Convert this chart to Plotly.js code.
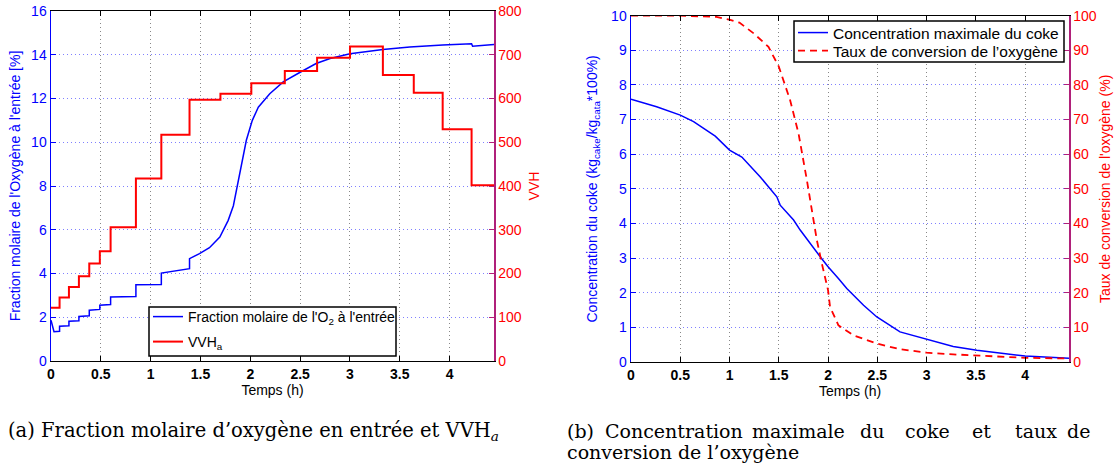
<!DOCTYPE html>
<html><head><meta charset="utf-8">
<script src="https://cdn.plot.ly/plotly-3.0.1.min.js"></script>
<style>html,body{margin:0;padding:0;background:#fff}#chart{width:1118px;height:474px}</style>
</head><body><div id="chart"></div>
<script>
// ---------- data: panel (a) ----------
const o2Time = [0, 0.03, 0.086, 0.086, 0.18, 0.18, 0.28, 0.28, 0.384, 0.384, 0.49, 0.49, 0.598, 0.598, 0.852, 0.852, 1.107, 1.107, 1.39, 1.39, 1.49, 1.59, 1.694, 1.778, 1.83, 1.878, 1.92, 1.96, 2.02, 2.08, 2.195, 2.33, 2.5, 2.66, 2.8, 3.0, 3.33, 3.6, 3.93, 4.22, 4.23, 4.445];
const o2Frac = [1.86, 1.34, 1.36, 1.59, 1.61, 1.82, 1.84, 2.04, 2.07, 2.32, 2.36, 2.55, 2.58, 2.93, 2.95, 3.49, 3.5, 4.02, 4.22, 4.68, 4.91, 5.18, 5.67, 6.43, 7.1, 8.26, 9.2, 10.09, 11.0, 11.6, 12.22, 12.76, 13.2, 13.6, 13.83, 14.05, 14.24, 14.35, 14.45, 14.5, 14.39, 14.47];
const vvhTime = [0, 0.086, 0.18, 0.28, 0.384, 0.49, 0.598, 0.852, 1.107, 1.39, 1.70, 2.01, 2.346, 2.67, 3.0, 3.33, 3.64, 3.93, 4.22, 4.445];
const vvhVal  = [122, 145, 169, 194, 223, 251, 306, 417, 517, 597, 611, 635, 663, 693, 719, 654, 613, 530, 402, 402];
// ---------- data: panel (b) ----------
const cokeTime = [0, 0.26, 0.5, 0.635, 0.855, 1.0, 1.125, 1.31, 1.48, 1.514, 1.65, 1.717, 1.92, 2.0, 2.105, 2.19, 2.36, 2.495, 2.73, 3.0, 3.27, 3.51, 4.0, 4.445];
const cokeVal  = [7.59, 7.37, 7.13, 6.94, 6.52, 6.12, 5.92, 5.35, 4.77, 4.53, 4.1, 3.81, 3.04, 2.75, 2.41, 2.12, 1.64, 1.30, 0.87, 0.65, 0.45, 0.34, 0.17, 0.11];
const convTime = [0, 0.5, 0.855, 1.007, 1.1, 1.245, 1.395, 1.5, 1.615, 1.70, 1.785, 1.82, 1.886, 1.937, 2.0, 2.02, 2.105, 2.258, 2.495, 2.73, 3.0, 3.27, 3.51, 4.0, 4.445];
const convVal  = [100, 100, 99.7, 98.8, 98, 94.9, 91, 85.3, 75.6, 66, 52.5, 46.7, 35.2, 28.4, 20.7, 15.9, 10.6, 7.7, 5.3, 3.7, 2.7, 2.2, 1.85, 1.2, 1.0];
// ---------- labels ----------
const xTitle = 'Temps (h)';
const yTitleA = "Fraction molaire de l'Oxygène à l'entrée [%]";
const y2TitleA = 'VVH';
const yTitleB = 'Concentration du coke (kg<sub>cake</sub>/kg<sub>cata</sub>*100%)';
const y2TitleB = "Taux de conversion de l'oxygène (%)";
const nameO2 = "Fraction molaire de l'O<sub>2</sub> à l'entrée";
const nameVVH = 'VVH<sub>a</sub>';
const nameCoke = 'Concentration maximale du coke';
const nameConv = 'Taux de conversion de l’oxygène';
const captionA = '(a) Fraction molaire d’oxygène en entrée et VVH<sub><i>a</i></sub>';
const captionBWords = ['(b)', 'Concentration', 'maximale', 'du', 'coke', 'et', 'taux', 'de'];
const captionBLine2 = 'conversion de l’oxygène';

const W = 1118, H = 474;
const fx = v => v / W, fy = v => 1 - v / H;
const SANS = 'Liberation Sans, Arial, sans-serif';
const SERIF = 'DejaVu Serif, Liberation Serif, serif';
const BLUE = '#0000ff', RED = '#ff0000', MAG = '#b0207a';

const traces = [
  {x: o2Time, y: o2Frac, xaxis: 'x', yaxis: 'y', mode: 'lines', name: nameO2,
   line: {color: BLUE, width: 1.5}, legend: 'legend'},
  {x: vvhTime, y: vvhVal, xaxis: 'x', yaxis: 'y2', mode: 'lines', name: nameVVH,
   line: {color: RED, width: 2, shape: 'hv'}, legend: 'legend3'},
  {x: cokeTime, y: cokeVal, xaxis: 'x2', yaxis: 'y3', mode: 'lines', name: nameCoke,
   line: {color: BLUE, width: 1.5}, legend: 'legend2'},
  {x: convTime, y: convVal, xaxis: 'x2', yaxis: 'y4', mode: 'lines', name: nameConv,
   line: {color: RED, width: 1.8, dash: '7px,5px'}, legend: 'legend4'}
];

function xAxis(domain, anchor) {
  return {domain: domain, anchor: anchor, range: [0, 4.445], tick0: 0, dtick: 0.5,
    ticks: 'inside', ticklen: 5, tickcolor: '#000', showline: true, linecolor: '#000', linewidth: 1.2,
    mirror: 'ticks', showgrid: true, gridcolor: '#888', griddash: '1px,3px', gridwidth: 1, zeroline: false,
    tickfont: {family: SANS, size: 14, color: '#000', weight: 'bold'},
    title: {text: xTitle, font: {family: SANS, size: 14, color: '#000'}, standoff: 2}, automargin: false};
}
function yLeft(domain, anchor, range, dtick, title, standoff) {
  return {domain: domain, anchor: anchor, range: range, dtick: dtick, tick0: 0,
    ticks: 'inside', ticklen: 5, tickcolor: BLUE, showline: true, linecolor: BLUE, linewidth: 1.5,
    showgrid: true, gridcolor: '#8080ff', griddash: '1px,3px', gridwidth: 1, zeroline: false,
    tickfont: {family: SANS, size: 14, color: BLUE},
    title: {text: title, font: {family: SANS, size: 14, color: BLUE}, standoff: standoff}, automargin: false};
}
function yRight(overlay, anchor, range, dtick, title, standoff) {
  return {overlaying: overlay, side: 'right', anchor: anchor, range: range, dtick: dtick, tick0: 0,
    ticks: 'inside', ticklen: 5, tickcolor: MAG, showline: true, linecolor: MAG, linewidth: 1.5,
    showgrid: false, zeroline: false,
    tickfont: {family: SANS, size: 14, color: RED},
    title: {text: title, font: {family: SANS, size: 14, color: RED}, standoff: standoff}, automargin: false};
}
function legendAt(x, yc, size) {
  return {x: fx(x), y: fy(yc), xanchor: 'left', yanchor: 'middle', bgcolor: 'rgba(0,0,0,0)',
    borderwidth: 0, font: {family: SANS, size: size, color: '#000'}, tracegroupgap: 0};
}

const annotations = [];
const capFontA = {family: SERIF, size: 19.5, color: '#000'};
const capFontB = {family: SERIF, size: 19, color: '#000'};
annotations.push({text: captionA, xref: 'paper', yref: 'paper', x: fx(6), y: fy(431), xanchor: 'left', yanchor: 'middle',
  showarrow: false, font: capFontA});
const wordX = [565, 603, 750, 858, 903, 970, 1013, 1065];
captionBWords.forEach((w, i) => annotations.push({text: w, xref: 'paper', yref: 'paper', x: fx(wordX[i]), y: fy(431),
  xanchor: 'left', yanchor: 'middle', showarrow: false, font: capFontB}));
annotations.push({text: captionBLine2, xref: 'paper', yref: 'paper', x: fx(565), y: fy(452), xanchor: 'left', yanchor: 'middle',
  showarrow: false, font: capFontB});

const boxStyle = {type: 'rect', xref: 'paper', yref: 'paper', layer: 'above', fillcolor: '#fff', line: {color: '#000', width: 1.5}};
const shapes = [
  Object.assign({x0: fx(149), x1: fx(396), y0: fy(356), y1: fy(307)}, boxStyle),
  Object.assign({x0: fx(794), x1: fx(1064), y0: fy(62), y1: fy(21)}, boxStyle)
];

const layout = {
  width: W, height: H, margin: {l: 0, r: 0, t: 0, b: 0},
  paper_bgcolor: '#fff', plot_bgcolor: '#fff', showlegend: true,
  xaxis: xAxis([fx(51), fx(494)], 'y'),
  yaxis: yLeft([1 - 361 / H, 1 - 11 / H], 'x', [0, 16], 2, yTitleA, 7),
  yaxis2: yRight('y', 'x', [0, 800], 100, y2TitleA, 8),
  xaxis2: xAxis([fx(631), fx(1069)], 'y3'),
  yaxis3: yLeft([1 - 362 / H, 1 - 15.7 / H], 'x2', [0, 10], 1, yTitleB, 10),
  yaxis4: yRight('y3', 'x2', [0, 100], 10, y2TitleB, 4),
  legend: legendAt(148, 317, 14),
  legend3: legendAt(148, 342, 14),
  legend2: legendAt(793, 33, 15.5),
  legend4: legendAt(793, 51, 15.5),
  shapes: shapes,
  annotations: annotations
};
Plotly.newPlot('chart', traces, layout, {displayModeBar: false, staticPlot: true});
</script></body></html>
